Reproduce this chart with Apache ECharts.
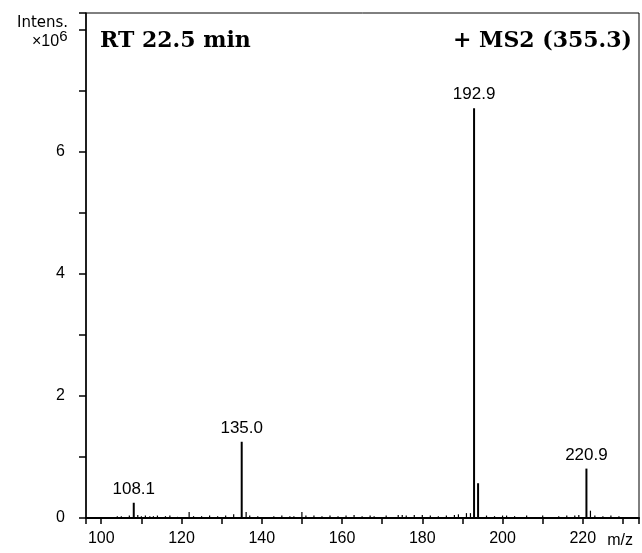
<!DOCTYPE html>
<html><head><meta charset="utf-8">
<script src="https://cdn.jsdelivr.net/npm/echarts@6/dist/echarts.min.js"></script>
<style>html,body{margin:0;padding:0;background:#fff}#c{width:642px;height:553px}</style>
</head><body><div id="c"></div>
<script>
// Major fragment ions (m/z, intensity x10^6)
const mainMz = [108.1, 135.0, 192.9, 193.9, 220.9];
const mainIntensity = [0.25, 1.25, 6.72, 0.57, 0.81];
// Peaks that carry an m/z annotation
const labeledPeaks = [108.1, 135.0, 192.9, 220.9];
// Low-level noise ions
const noiseMz = [104.0, 105.0, 107.0, 109.1, 110.0, 111.0, 112.1, 113.0, 114.0, 116.0, 117.1, 119.0,
  121.9, 123.0, 125.0, 127.0, 129.0, 131.0, 133.0, 136.1, 137.0, 139.0, 143.0, 145.0, 147.0, 148.0,
  150.0, 151.0, 153.0, 155.0, 157.0, 159.0, 161.0, 163.0, 165.0, 167.0, 168.0, 171.0, 174.0, 175.0,
  176.0, 178.0, 180.0, 182.0, 184.0, 186.0, 188.0, 189.0, 191.0, 192.0, 196.0, 198.0, 200.0, 201.0,
  203.0, 206.0, 210.0, 214.0, 216.0, 218.0, 219.0, 221.9, 223.0, 225.0, 227.0, 229.0];
const noiseIntensity = [0.03, 0.03, 0.04, 0.05, 0.03, 0.04, 0.03, 0.03, 0.04, 0.03, 0.04, 0.02,
  0.10, 0.03, 0.03, 0.04, 0.03, 0.04, 0.06, 0.10, 0.04, 0.03, 0.03, 0.04, 0.03, 0.03,
  0.10, 0.04, 0.04, 0.03, 0.04, 0.03, 0.04, 0.05, 0.03, 0.04, 0.03, 0.04, 0.05, 0.05,
  0.04, 0.05, 0.05, 0.04, 0.03, 0.04, 0.05, 0.06, 0.08, 0.08, 0.04, 0.03, 0.04, 0.04,
  0.03, 0.04, 0.04, 0.03, 0.04, 0.04, 0.05, 0.12, 0.04, 0.03, 0.04, 0.03];
const xTickLabels = [100, 120, 140, 160, 180, 200, 220];
const yTickLabels = [0, 2, 4, 6];

const chart = echarts.init(document.getElementById('c'), null, {renderer: 'canvas'});

function stickRenderer(width, withLabels) {
  return function (params, api) {
    const x = api.value(0), y = api.value(1);
    const p0 = api.coord([x, 0]);
    const p1 = api.coord([x, y]);
    const children = [{
      type: 'line',
      shape: {x1: p0[0], y1: p0[1], x2: p1[0], y2: p1[1]},
      style: {stroke: '#000', lineWidth: width}
    }];
    if (withLabels && labeledPeaks.indexOf(x) >= 0) {
      children.push({
        type: 'text',
        style: {
          text: x.toFixed(1), x: p1[0], y: p1[1] - 5,
          align: 'center', verticalAlign: 'bottom',
          font: '17px "Liberation Sans", Arial, sans-serif', fill: '#000'
        }
      });
    }
    return {type: 'group', children: children};
  };
}

const sansFont = '"Liberation Sans", Arial, sans-serif';

chart.setOption({
  backgroundColor: '#fff',
  animation: false,
  title: [
    {text: 'RT 22.5 min', left: 95, top: 25,
     textStyle: {fontFamily: '"DejaVu Serif", serif', fontWeight: 'bold', fontSize: 22, color: '#000'}},
    {text: '+ MS2 (355.3)', right: 5, top: 25,
     textStyle: {fontFamily: '"DejaVu Serif", serif', fontWeight: 'bold', fontSize: 22, color: '#000'}},
    {text: 'Intens.', left: 12, top: 11,
     textStyle: {fontFamily: '"DejaVu Sans", sans-serif', fontWeight: 'normal', fontSize: 15, color: '#000'}},
    {text: '{a|×10}{b|6}', left: 27, top: 24,
     textStyle: {fontWeight: 'normal', rich: {
       a: {fontFamily: sansFont, fontWeight: 'normal', fontSize: 16, color: '#000', lineHeight: 26, verticalAlign: 'middle'},
       b: {fontFamily: sansFont, fontWeight: 'normal', fontSize: 15, color: '#000', lineHeight: 13, verticalAlign: 'top'}
     }}}
  ],
  grid: {left: 86, right: 2, top: 13, bottom: 35, show: true, borderColor: '#000', borderWidth: 1},
  xAxis: {
    type: 'value', min: 96.2, max: 234,
    minInterval: 10, maxInterval: 10,
    name: 'm/z', nameLocation: 'end', nameGap: -6,
    nameTextStyle: {fontFamily: sansFont, fontSize: 16, color: '#000',
      align: 'right', verticalAlign: 'top', padding: [15, 0, 0, 0]},
    axisLine: {show: true, lineStyle: {color: '#000', width: 2}},
    axisTick: {show: true, length: 6, lineStyle: {color: '#000', width: 1.5}},
    axisLabel: {
      margin: 13, color: '#000', fontSize: 16, fontFamily: sansFont,
      formatter: v => (xTickLabels.indexOf(v) >= 0 ? String(v) : '')
    },
    splitLine: {show: false}
  },
  yAxis: {
    type: 'value', min: 0, max: 8.28, interval: 1,
    axisLine: {show: true, lineStyle: {color: '#000', width: 1.5}},
    axisTick: {show: true, length: 7, lineStyle: {color: '#000', width: 1.5}},
    axisLabel: {
      margin: 21, color: '#000', fontSize: 16, fontFamily: sansFont,
      formatter: v => (yTickLabels.indexOf(v) >= 0 ? String(v) : '')
    },
    splitLine: {show: false}
  },
  series: [
    {type: 'custom', name: 'noise', renderItem: stickRenderer(1.2, false),
     data: noiseMz.map((m, i) => [m, noiseIntensity[i]]), clip: true},
    {type: 'custom', name: 'main', renderItem: stickRenderer(2, true),
     data: mainMz.map((m, i) => [m, mainIntensity[i]]), clip: false}
  ]
});
</script>
</body></html>
